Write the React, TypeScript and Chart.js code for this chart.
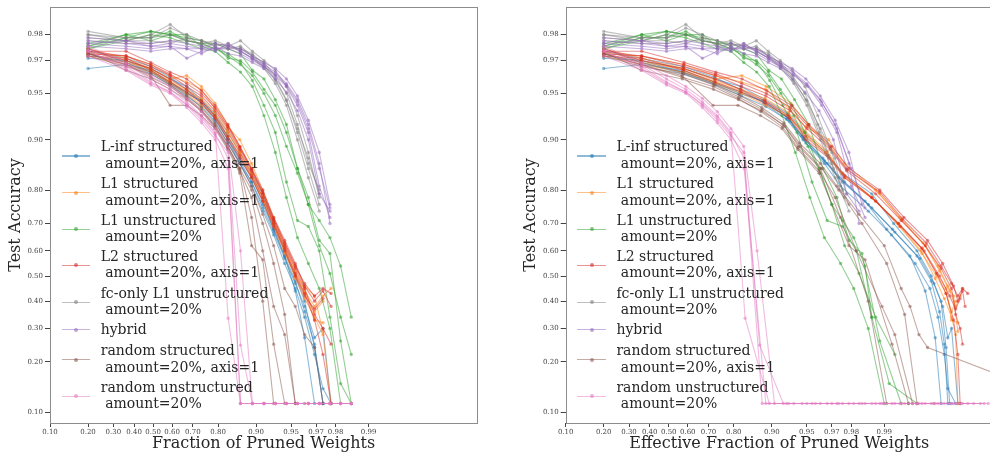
import React, { useEffect, useRef } from "react";
import { Chart, registerables } from "chart.js";

Chart.register(...registerables);

const X_TICKS = [0.1, 0.2, 0.3, 0.4, 0.5, 0.6, 0.7, 0.8, 0.9, 0.95, 0.97, 0.98, 0.99];
const Y_TICKS = [0.1, 0.2, 0.3, 0.4, 0.5, 0.6, 0.7, 0.8, 0.9, 0.95, 0.97, 0.98];
const X_RANGE = [0.1, 0.999];
const Y_RANGE = [0.0855, 0.9871];

const LEGEND_LABELS = [
  "L-inf structured\n amount=20%, axis=1",
  "L1 structured\n amount=20%, axis=1",
  "L1 unstructured\n amount=20%",
  "L2 structured\n amount=20%, axis=1",
  "fc-only L1 unstructured\n amount=20%",
  "hybrid",
  "random structured\n amount=20%, axis=1",
  "random unstructured\n amount=20%",
];

// fraction of pruned weights per pruning iteration
const NOMINAL_FRACTION = [0.2, 0.36, 0.488, 0.5904, 0.6723, 0.7379, 0.7903, 0.8322, 0.8658, 0.8926, 0.9141, 0.9313, 0.945, 0.956, 0.9648, 0.9719, 0.9775, 0.982, 0.9856];
const STRUCTURED_FRACTION = [0.2, 0.36, 0.488, 0.59, 0.672, 0.737, 0.789, 0.831, 0.864, 0.891, 0.912, 0.929, 0.943, 0.954, 0.962, 0.969, 0.974, 0.978];

// ---- L-inf structured (blue)
const linfAcc = [
  [0.966, 0.968, 0.965, 0.958, 0.95, 0.944, 0.93, 0.905, 0.87, 0.83, 0.77, 0.68, 0.58, 0.44, 0.27, 0.1135, 0.1135],
  [0.972, 0.97, 0.966, 0.96, 0.955, 0.945, 0.932, 0.91, 0.88, 0.84, 0.79, 0.7, 0.6, 0.5, 0.4, 0.24, 0.1135, 0.1135],
  [0.974, 0.971, 0.967, 0.961, 0.953, 0.942, 0.926, 0.9, 0.86, 0.81, 0.74, 0.66, 0.55, 0.45, 0.34, 0.22, 0.14, 0.1135],
  [0.973, 0.969, 0.963, 0.956, 0.948, 0.939, 0.924, 0.895, 0.86, 0.82, 0.75, 0.67, 0.57, 0.47, 0.38, 0.27, 0.3, 0.1135],
  [0.971, 0.97, 0.964, 0.957, 0.951, 0.943, 0.928, 0.902, 0.865, 0.82, 0.76, 0.68, 0.58, 0.48, 0.36, 0.25, 0.1135],
];
const linfEff = [
  [0.2, 0.357, 0.573, 0.724, 0.819, 0.882, 0.924, 0.945, 0.964, 0.974, 0.985, 0.9905, 0.9942, 0.9958, 0.9966, 0.997, 0.9976],
  [0.2, 0.358, 0.577, 0.728, 0.823, 0.886, 0.927, 0.948, 0.966, 0.976, 0.987, 0.9918, 0.995, 0.9963, 0.997, 0.9973, 0.9975, 0.998],
  [0.2, 0.356, 0.575, 0.726, 0.821, 0.884, 0.925, 0.946, 0.965, 0.975, 0.986, 0.9914, 0.9948, 0.9962, 0.9968, 0.9972, 0.9974, 0.9978],
  [0.2, 0.358, 0.579, 0.73, 0.825, 0.888, 0.929, 0.949, 0.967, 0.977, 0.987, 0.992, 0.9953, 0.9965, 0.9971, 0.9974, 0.9976, 0.9979],
  [0.2, 0.357, 0.576, 0.727, 0.822, 0.885, 0.926, 0.947, 0.965, 0.976, 0.986, 0.9916, 0.995, 0.9963, 0.9969, 0.9972, 0.9974],
];

// ---- L1 structured (orange)
const l1sAcc = [
  [0.973, 0.972, 0.968, 0.962, 0.958, 0.953, 0.937, 0.917, 0.9, 0.86, 0.8, 0.72, 0.63, 0.54, 0.46, 0.42, 0.29],
  [0.975, 0.971, 0.966, 0.96, 0.962, 0.955, 0.942, 0.92, 0.89, 0.85, 0.79, 0.71, 0.62, 0.52, 0.44, 0.38, 0.42, 0.45],
  [0.972, 0.968, 0.964, 0.958, 0.952, 0.944, 0.93, 0.91, 0.88, 0.84, 0.78, 0.7, 0.6, 0.49, 0.41, 0.34, 0.28, 0.1135],
  [0.974, 0.97, 0.965, 0.957, 0.95, 0.94, 0.928, 0.905, 0.875, 0.83, 0.77, 0.69, 0.59, 0.5, 0.43, 0.36, 0.4],
  [0.973, 0.969, 0.966, 0.959, 0.953, 0.946, 0.933, 0.912, 0.882, 0.838, 0.78, 0.7, 0.61, 0.51, 0.45, 0.33, 0.32],
];
const l1sEff = [
  [0.2, 0.359, 0.578, 0.729, 0.824, 0.887, 0.929, 0.949, 0.968, 0.977, 0.988, 0.9928, 0.9956, 0.9968, 0.9974, 0.9977, 0.9979],
  [0.2, 0.36, 0.58, 0.731, 0.826, 0.889, 0.931, 0.951, 0.969, 0.978, 0.989, 0.9931, 0.9958, 0.9969, 0.9975, 0.9978, 0.998, 0.9981],
  [0.2, 0.358, 0.576, 0.727, 0.822, 0.885, 0.927, 0.947, 0.966, 0.976, 0.987, 0.9925, 0.9954, 0.9966, 0.9972, 0.9976, 0.9978, 0.9979],
  [0.2, 0.359, 0.579, 0.73, 0.825, 0.888, 0.93, 0.95, 0.968, 0.977, 0.988, 0.9927, 0.9955, 0.9967, 0.9973, 0.9976, 0.9978],
  [0.2, 0.358, 0.577, 0.728, 0.823, 0.886, 0.928, 0.948, 0.967, 0.976, 0.987, 0.9926, 0.9955, 0.9967, 0.9973, 0.9976, 0.9979],
];

// ---- L1 unstructured (green)
const l1uAcc = [
  [0.976, 0.98, 0.981, 0.98, 0.979, 0.978, 0.976, 0.971, 0.97, 0.964, 0.953, 0.94, 0.91, 0.85, 0.76, 0.71, 0.65, 0.54, 0.34],
  [0.975, 0.979, 0.979, 0.981, 0.978, 0.977, 0.977, 0.975, 0.973, 0.965, 0.96, 0.945, 0.92, 0.85, 0.78, 0.64, 0.59, 0.26, 0.1135],
  [0.977, 0.98, 0.978, 0.98, 0.98, 0.976, 0.975, 0.973, 0.969, 0.959, 0.94, 0.91, 0.82, 0.71, 0.69, 0.6, 0.34, 0.15, 0.1135],
  [0.975, 0.978, 0.98, 0.979, 0.977, 0.975, 0.974, 0.969, 0.964, 0.955, 0.93, 0.88, 0.78, 0.65, 0.55, 0.45, 0.3, 0.1135, 0.1135],
  [0.976, 0.979, 0.981, 0.98, 0.978, 0.977, 0.975, 0.972, 0.968, 0.962, 0.95, 0.93, 0.89, 0.84, 0.76, 0.62, 0.51, 0.34, 0.22],
];
const l1uEff = [
  [0.2, 0.36, 0.488, 0.59, 0.672, 0.738, 0.79, 0.832, 0.866, 0.893, 0.915, 0.933, 0.948, 0.961, 0.97, 0.976, 0.981, 0.985, 0.987],
  [0.2, 0.36, 0.488, 0.59, 0.672, 0.738, 0.79, 0.832, 0.866, 0.894, 0.917, 0.936, 0.952, 0.964, 0.973, 0.979, 0.984, 0.989, 0.993],
  [0.2, 0.36, 0.488, 0.59, 0.672, 0.738, 0.79, 0.833, 0.868, 0.896, 0.919, 0.939, 0.955, 0.967, 0.976, 0.982, 0.987, 0.991, 0.995],
  [0.2, 0.36, 0.488, 0.59, 0.672, 0.738, 0.79, 0.832, 0.867, 0.895, 0.918, 0.937, 0.953, 0.965, 0.975, 0.981, 0.986, 0.99, 0.994],
  [0.2, 0.36, 0.488, 0.59, 0.672, 0.738, 0.79, 0.832, 0.866, 0.894, 0.916, 0.935, 0.951, 0.962, 0.97, 0.977, 0.983, 0.988, 0.992],
];

// ---- L2 structured (red)
const l2sAcc = [
  [0.974, 0.974, 0.969, 0.964, 0.96, 0.952, 0.94, 0.92, 0.89, 0.85, 0.8, 0.72, 0.64, 0.55, 0.46, 0.4, 0.44, 0.38],
  [0.973, 0.972, 0.967, 0.962, 0.955, 0.948, 0.935, 0.915, 0.885, 0.845, 0.79, 0.71, 0.62, 0.53, 0.45, 0.35, 0.3, 0.25],
  [0.975, 0.97, 0.966, 0.96, 0.953, 0.944, 0.93, 0.905, 0.875, 0.835, 0.78, 0.7, 0.61, 0.51, 0.43, 0.33, 0.22, 0.1135],
  [0.972, 0.971, 0.965, 0.958, 0.951, 0.942, 0.927, 0.9, 0.87, 0.83, 0.77, 0.69, 0.6, 0.5, 0.42, 0.37, 0.41],
  [0.974, 0.972, 0.968, 0.963, 0.957, 0.95, 0.938, 0.918, 0.888, 0.848, 0.795, 0.715, 0.63, 0.54, 0.47, 0.42, 0.45, 0.43],
];
const l2sEff = [
  [0.2, 0.36, 0.581, 0.732, 0.827, 0.89, 0.932, 0.952, 0.97, 0.979, 0.989, 0.9934, 0.996, 0.9971, 0.9977, 0.9979, 0.9981, 0.9982],
  [0.2, 0.359, 0.579, 0.73, 0.825, 0.888, 0.93, 0.95, 0.969, 0.978, 0.988, 0.993, 0.9958, 0.997, 0.9976, 0.9978, 0.998, 0.9981],
  [0.2, 0.358, 0.577, 0.728, 0.823, 0.886, 0.928, 0.948, 0.967, 0.977, 0.987, 0.9926, 0.9955, 0.9967, 0.9973, 0.9977, 0.9979, 0.998],
  [0.2, 0.359, 0.578, 0.729, 0.824, 0.887, 0.929, 0.949, 0.968, 0.977, 0.988, 0.9929, 0.9957, 0.9969, 0.9975, 0.9978, 0.998],
  [0.2, 0.36, 0.58, 0.731, 0.826, 0.889, 0.931, 0.951, 0.969, 0.978, 0.989, 0.9932, 0.9959, 0.997, 0.9976, 0.9979, 0.9981, 0.9983],
];

// ---- fc-only L1 unstructured (gray)
const fcAcc = [
  [0.981, 0.979, 0.979, 0.982, 0.98, 0.978, 0.977, 0.976, 0.978, 0.974, 0.97, 0.965, 0.955, 0.93, 0.88, 0.78],
  [0.98, 0.978, 0.978, 0.977, 0.979, 0.976, 0.977, 0.975, 0.975, 0.973, 0.968, 0.96, 0.945, 0.91, 0.85, 0.76],
  [0.979, 0.978, 0.98, 0.983, 0.979, 0.978, 0.976, 0.977, 0.974, 0.971, 0.966, 0.957, 0.94, 0.9, 0.83, 0.74],
  [0.978, 0.977, 0.977, 0.978, 0.978, 0.977, 0.975, 0.975, 0.976, 0.972, 0.969, 0.962, 0.95, 0.92, 0.86, 0.8],
  [0.98, 0.979, 0.979, 0.98, 0.978, 0.977, 0.978, 0.976, 0.975, 0.972, 0.967, 0.959, 0.944, 0.915, 0.87, 0.79],
];
const fcEff = [
  [0.2, 0.36, 0.488, 0.59, 0.672, 0.738, 0.79, 0.832, 0.866, 0.893, 0.915, 0.933, 0.948, 0.96, 0.97, 0.977],
  [0.2, 0.36, 0.488, 0.59, 0.672, 0.738, 0.79, 0.832, 0.866, 0.894, 0.916, 0.934, 0.949, 0.961, 0.971, 0.979],
  [0.2, 0.36, 0.488, 0.59, 0.672, 0.738, 0.79, 0.832, 0.867, 0.894, 0.916, 0.935, 0.95, 0.962, 0.972, 0.979],
  [0.2, 0.36, 0.488, 0.59, 0.672, 0.738, 0.79, 0.832, 0.866, 0.893, 0.915, 0.933, 0.948, 0.96, 0.97, 0.976],
  [0.2, 0.36, 0.488, 0.59, 0.672, 0.738, 0.79, 0.832, 0.866, 0.894, 0.916, 0.934, 0.95, 0.962, 0.972, 0.978],
];

// ---- hybrid (purple)
const hybridAcc = [
  [0.978, 0.977, 0.976, 0.977, 0.976, 0.975, 0.977, 0.976, 0.975, 0.972, 0.969, 0.966, 0.96, 0.948, 0.925, 0.88, 0.76],
  [0.977, 0.976, 0.975, 0.976, 0.971, 0.974, 0.975, 0.975, 0.973, 0.97, 0.967, 0.962, 0.955, 0.94, 0.91, 0.81, 0.72],
  [0.979, 0.978, 0.977, 0.978, 0.977, 0.976, 0.974, 0.977, 0.974, 0.971, 0.968, 0.964, 0.957, 0.945, 0.92, 0.86, 0.7],
  [0.976, 0.975, 0.974, 0.975, 0.975, 0.973, 0.976, 0.973, 0.972, 0.969, 0.966, 0.96, 0.951, 0.935, 0.9, 0.79, 0.74],
  [0.977, 0.978, 0.976, 0.976, 0.975, 0.975, 0.975, 0.976, 0.974, 0.971, 0.967, 0.963, 0.956, 0.943, 0.915, 0.85, 0.75],
];
const hybridEff = [
  [0.2, 0.36, 0.488, 0.59, 0.672, 0.738, 0.79, 0.832, 0.866, 0.893, 0.915, 0.933, 0.949, 0.962, 0.972, 0.979, 0.984],
  [0.2, 0.36, 0.488, 0.59, 0.672, 0.738, 0.79, 0.832, 0.867, 0.894, 0.916, 0.935, 0.951, 0.963, 0.973, 0.98, 0.985],
  [0.2, 0.36, 0.488, 0.59, 0.672, 0.738, 0.79, 0.832, 0.866, 0.894, 0.916, 0.934, 0.95, 0.962, 0.972, 0.979, 0.983],
  [0.2, 0.36, 0.488, 0.59, 0.672, 0.738, 0.79, 0.832, 0.866, 0.893, 0.915, 0.933, 0.948, 0.961, 0.971, 0.978, 0.983],
  [0.2, 0.36, 0.488, 0.59, 0.672, 0.738, 0.79, 0.832, 0.867, 0.894, 0.916, 0.934, 0.95, 0.963, 0.973, 0.98, 0.985],
];

// ---- random structured (brown)
const randSAcc = [
  [0.974, 0.965, 0.96, 0.953, 0.945, 0.935, 0.92, 0.89, 0.85, 0.72, 0.4, 0.1135],
  [0.973, 0.968, 0.962, 0.94, 0.94, 0.93, 0.915, 0.885, 0.84, 0.62, 0.565, 0.25, 0.1135],
  [0.972, 0.967, 0.963, 0.956, 0.947, 0.936, 0.918, 0.89, 0.85, 0.8, 0.7, 0.55, 0.35, 0.1135, 0.1135],
  [0.975, 0.969, 0.964, 0.957, 0.949, 0.938, 0.922, 0.895, 0.86, 0.81, 0.73, 0.62, 0.45, 0.38, 0.28, 0.24, 0.1135],
  [0.973, 0.968, 0.961, 0.955, 0.946, 0.934, 0.917, 0.888, 0.845, 0.78, 0.6, 0.38, 0.28, 0.1135],
];
const randSEff = [
  [0.2, 0.357, 0.572, 0.722, 0.816, 0.878, 0.92, 0.941, 0.962, 0.975, 0.986, 0.9905],
  [0.2, 0.356, 0.57, 0.72, 0.814, 0.876, 0.918, 0.94, 0.961, 0.979, 0.985, 0.9915, 0.994],
  [0.2, 0.358, 0.574, 0.724, 0.818, 0.88, 0.922, 0.943, 0.963, 0.974, 0.984, 0.9905, 0.9935, 0.995, 0.9965],
  [0.2, 0.357, 0.573, 0.723, 0.817, 0.879, 0.921, 0.942, 0.962, 0.973, 0.983, 0.99, 0.993, 0.9942, 0.9952, 0.996, 0.99982],
  [0.2, 0.356, 0.571, 0.721, 0.815, 0.877, 0.919, 0.94, 0.961, 0.972, 0.982, 0.9895, 0.992, 0.9945],
];

// ---- random unstructured (pink)
const randUAcc = [
  [0.975, 0.968, 0.96, 0.953, 0.943, 0.93, 0.91, 0.336, 0.1135, 0.1135, 0.1135, 0.1135, 0.1135, 0.1135, 0.1135, 0.1135, 0.1135, 0.1135, 0.1135],
  [0.974, 0.967, 0.958, 0.951, 0.94, 0.925, 0.905, 0.88, 0.247, 0.1135, 0.1135, 0.1135, 0.1135, 0.1135, 0.1135, 0.1135, 0.1135, 0.1135, 0.1135],
  [0.972, 0.965, 0.956, 0.95, 0.938, 0.922, 0.9, 0.85, 0.1135, 0.1135, 0.1135, 0.1135, 0.1135, 0.1135, 0.1135, 0.1135, 0.1135, 0.1135, 0.1135],
  [0.976, 0.969, 0.962, 0.955, 0.946, 0.934, 0.915, 0.89, 0.6, 0.1135, 0.1135, 0.1135, 0.1135, 0.1135, 0.1135, 0.1135, 0.1135, 0.1135, 0.1135],
  [0.974, 0.966, 0.957, 0.951, 0.941, 0.928, 0.908, 0.87, 0.1135, 0.1135, 0.1135, 0.1135, 0.1135, 0.1135, 0.1135, 0.1135, 0.1135, 0.1135, 0.1135],
];
const randUEff = [
  [0.2, 0.36, 0.488, 0.59, 0.672, 0.738, 0.79, 0.836, 0.895, 0.935, 0.962, 0.976, 0.985, 0.99, 0.9935, 0.9958, 0.9972, 0.9981, 0.9987],
  [0.2, 0.36, 0.488, 0.59, 0.672, 0.738, 0.79, 0.832, 0.874, 0.92, 0.95, 0.97, 0.981, 0.988, 0.992, 0.995, 0.9966, 0.9977, 0.9985],
  [0.2, 0.36, 0.488, 0.59, 0.672, 0.738, 0.79, 0.833, 0.888, 0.928, 0.958, 0.974, 0.984, 0.9895, 0.993, 0.9955, 0.997, 0.998, 0.9988],
  [0.2, 0.36, 0.488, 0.59, 0.672, 0.738, 0.79, 0.832, 0.868, 0.905, 0.945, 0.967, 0.979, 0.987, 0.9915, 0.9945, 0.9963, 0.9975, 0.9983],
  [0.2, 0.36, 0.488, 0.59, 0.672, 0.738, 0.79, 0.833, 0.88, 0.925, 0.955, 0.973, 0.983, 0.989, 0.9928, 0.9952, 0.9968, 0.9978, 0.9989],
];

type Method = { label: string; rgb: number[]; acc: number[][]; frac: number[]; eff: number[][] };

const METHODS: Method[] = [
  { label: LEGEND_LABELS[0], rgb: [31, 119, 180], acc: linfAcc, frac: STRUCTURED_FRACTION, eff: linfEff },
  { label: LEGEND_LABELS[1], rgb: [255, 127, 14], acc: l1sAcc, frac: STRUCTURED_FRACTION, eff: l1sEff },
  { label: LEGEND_LABELS[2], rgb: [44, 160, 44], acc: l1uAcc, frac: NOMINAL_FRACTION, eff: l1uEff },
  { label: LEGEND_LABELS[3], rgb: [214, 39, 40], acc: l2sAcc, frac: STRUCTURED_FRACTION, eff: l2sEff },
  { label: LEGEND_LABELS[4], rgb: [127, 127, 127], acc: fcAcc, frac: NOMINAL_FRACTION, eff: fcEff },
  { label: LEGEND_LABELS[5], rgb: [148, 103, 189], acc: hybridAcc, frac: NOMINAL_FRACTION, eff: hybridEff },
  { label: LEGEND_LABELS[6], rgb: [140, 86, 75], acc: randSAcc, frac: STRUCTURED_FRACTION, eff: randSEff },
  { label: LEGEND_LABELS[7], rgb: [227, 119, 194], acc: randUAcc, frac: NOMINAL_FRACTION, eff: randUEff },
];

const FONT = "'DejaVu Serif', serif";
const TEXT_COLOR = "#262626";
const TICK_COLOR = "#444444";
const FRAME_COLOR = "#8c8c8c";
const ALPHA = 0.5;

const logit = (p: number) => Math.log(p / (1 - p));
const rgba = (c: number[], a: number) => `rgba(${c[0]},${c[1]},${c[2]},${a})`;

const framePlugin = {
  id: "frame",
  afterDraw(chart: any) {
    const { ctx, chartArea: a } = chart;
    ctx.save();
    ctx.strokeStyle = FRAME_COLOR;
    ctx.lineWidth = 1;
    ctx.strokeRect(Math.round(a.left) + 0.5, Math.round(a.top) + 0.5, Math.round(a.right - a.left), Math.round(a.bottom - a.top));
    ctx.restore();
  },
};

type PanelProps = {
  effective: boolean;
  xTitle: string;
  canvasLeft: number;
  canvasWidth: number;
  padLeft: number;
  padRight: number;
  yAxisWidth: number;
};

function Panel({ effective, xTitle, canvasLeft, canvasWidth, padLeft, padRight, yAxisWidth }: PanelProps) {
  const ref = useRef<HTMLCanvasElement>(null);
  useEffect(() => {
    if (!ref.current) return;
    const datasets: any[] = [];
    let order = 0;
    METHODS.forEach((m) => {
      m.acc.forEach((ys, ri) => {
        const xs = effective ? m.eff[ri] : m.frac;
        datasets.push({
          data: ys.map((y, i) => ({ x: logit(xs[i]), y: logit(y) })),
          borderColor: rgba(m.rgb, ALPHA),
          backgroundColor: rgba(m.rgb, ALPHA),
          pointBackgroundColor: rgba(m.rgb, ALPHA),
          pointBorderWidth: 0,
          pointRadius: 1.7,
          pointHoverRadius: 0,
          borderWidth: 1.1,
          tension: 0,
          fill: false,
          order: -order,
        });
        order++;
      });
    });
    const tickFont = { family: FONT, size: 7 };
    const chart = new Chart(ref.current, {
      type: "line",
      data: { datasets },
      plugins: [framePlugin],
      options: {
        animation: false,
        responsive: false,
        devicePixelRatio: 1,
        events: [],
        layout: { padding: { left: padLeft, right: padRight, top: 7, bottom: 0 } },
        plugins: { legend: { display: false }, tooltip: { enabled: false } },
        scales: {
          x: {
            type: "linear",
            min: logit(X_RANGE[0]),
            max: logit(X_RANGE[1]),
            afterBuildTicks: (s: any) => {
              s.ticks = X_TICKS.map((v) => ({ value: logit(v) }));
            },
            afterFit: (s: any) => {
              s.height = 30;
            },
            ticks: {
              autoSkip: false,
              maxRotation: 0,
              minRotation: 0,
              font: tickFont,
              color: TICK_COLOR,
              padding: 1,
              callback: (_v: any, i: number) => X_TICKS[i].toFixed(2),
            },
            grid: { drawOnChartArea: false, drawTicks: true, tickLength: 4, color: TICK_COLOR },
            border: { display: false },
            title: { display: true, text: xTitle, font: { family: FONT, size: 16 }, color: TEXT_COLOR, padding: 0 },
          },
          y: {
            type: "linear",
            min: logit(Y_RANGE[0]),
            max: logit(Y_RANGE[1]),
            afterBuildTicks: (s: any) => {
              s.ticks = Y_TICKS.map((v) => ({ value: logit(v) }));
            },
            afterFit: (s: any) => {
              s.width = yAxisWidth;
            },
            ticks: {
              autoSkip: false,
              font: tickFont,
              color: TICK_COLOR,
              padding: 2,
              callback: (_v: any, i: number) => Y_TICKS[i].toFixed(2),
            },
            grid: { drawOnChartArea: false, drawTicks: true, tickLength: 5, color: TICK_COLOR },
            border: { display: false },
            title: { display: true, text: "Test Accuracy", font: { family: FONT, size: 16 }, color: TEXT_COLOR, padding: { top: 6, bottom: 0 } },
          },
        },
      } as any,
    });
    return () => chart.destroy();
  }, []);
  return (
    <canvas
      ref={ref}
      width={canvasWidth}
      height={453}
      style={{ position: "absolute", left: canvasLeft, top: 0, width: canvasWidth, height: 453 }}
    />
  );
}

const LEGEND_Y = [156, 192.7, 229.3, 265.3, 302.3, 329.7, 359.7, 396.3];

function Legend({ frameLeft }: { frameLeft: number }) {
  const hx = frameLeft + 11.7;
  return (
    <>
      {METHODS.map((m, i) => {
        const two = m.label.indexOf("\n") >= 0;
        const hy = LEGEND_Y[i];
        return (
          <React.Fragment key={i}>
            <div style={{ position: "absolute", left: hx, top: hy - 0.75, width: 28.3, height: 1.5, background: rgba(m.rgb, ALPHA) }} />
            <div style={{ position: "absolute", left: hx + 14.15 - 2, top: hy - 2, width: 4, height: 4, borderRadius: 2, background: rgba(m.rgb, 0.6) }} />
            <div
              style={{
                position: "absolute",
                left: hx + 39,
                top: two ? hy - 17.6 : hy - 8.3,
                fontFamily: FONT,
                fontSize: 14,
                lineHeight: "16.6px",
                color: TEXT_COLOR,
                whiteSpace: "pre",
              }}
            >
              {m.label}
            </div>
          </React.Fragment>
        );
      })}
    </>
  );
}

export default function App() {
  return (
    <div style={{ position: "absolute", left: 0, top: 0, width: 990, height: 453, overflow: "hidden", background: "#fff" }}>
      <Panel effective={false} xTitle="Fraction of Pruned Weights" canvasLeft={0} canvasWidth={495} padLeft={0} padRight={18} yAxisWidth={50} />
      <Panel effective={true} xTitle="Effective Fraction of Pruned Weights" canvasLeft={495} canvasWidth={510} padLeft={20} padRight={12.3} yAxisWidth={50.7} />
      <Legend frameLeft={50} />
      <Legend frameLeft={565.7} />
    </div>
  );
}
